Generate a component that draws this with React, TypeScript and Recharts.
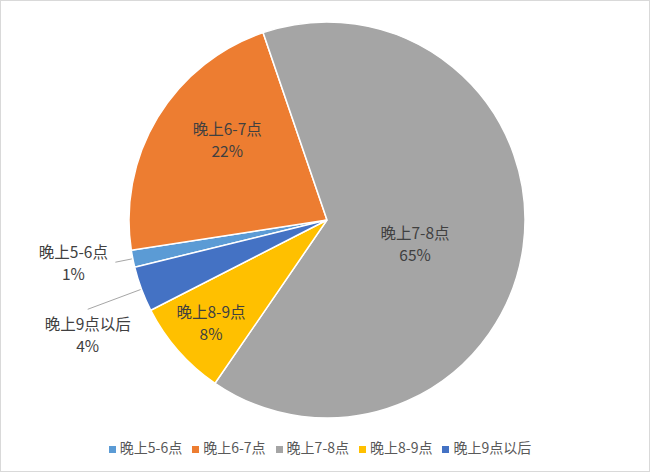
import React from 'react';
import { PieChart, Pie, Cell, Legend } from 'recharts';

const names = ['晚上5-6点', '晚上6-7点', '晚上7-8点', '晚上8-9点', '晚上9点以后'];
const shares = [1.4, 22.2, 64.8, 7.9, 3.7];
const colors = ['#5B9BD5', '#ED7D31', '#A5A5A5', '#FFC000', '#4472C4'];

const data = names.map((name, i) => ({ name, value: shares[i] }));

// where each data label sits: inside the slice, or outside with a leader line
const labelPlacement: Record<string, any> = {
  '晚上5-6点': { outside: true, r: 1.09, textShift: -42, dy: 0 },
  '晚上6-7点': { r: 0.65, shift: -8 },
  '晚上7-8点': { r: 0.46, shift: -7 },
  '晚上8-9点': { r: 0.78, shift: 0 },
  '晚上9点以后': { outside: true, r: 1.29, textShift: 0, dy: 25 },
};

const RADIAN = Math.PI / 180;
const font = '"Noto Sans CJK SC", "Microsoft YaHei", sans-serif';

const Lines = ({ x, y, name, pct }: { x: number; y: number; name: string; pct: string }) => (
  <>
    <text x={x} y={y - 11} textAnchor="middle" fill="#404040" fontSize={15.5} fontFamily={font} dominantBaseline="central">
      {name}
    </text>
    <text x={x} y={y + 11} textAnchor="middle" fill="#404040" fontSize={15.5} fontFamily={font} dominantBaseline="central">
      {pct}
    </text>
  </>
);

const renderLabel = (props: any) => {
  const { cx, cy, midAngle, outerRadius, percent, name } = props;
  const p = labelPlacement[name] || { r: 0.6, shift: 0 };
  const angle = (midAngle + (p.shift || 0)) * RADIAN;
  const x = cx + outerRadius * p.r * Math.cos(-angle);
  const y = cy + outerRadius * p.r * Math.sin(-angle);
  const pct = `${Math.round(percent * 100)}%`;

  if (p.outside) {
    const sx = cx + (outerRadius + 1) * Math.cos(-angle);
    const sy = cy + (outerRadius + 1) * Math.sin(-angle);
    return (
      <g>
        <line x1={sx} y1={sy} x2={x} y2={y} stroke="#a6a6a6" strokeWidth={1} />
        <Lines x={x + p.textShift} y={y + p.dy} name={name} pct={pct} />
      </g>
    );
  }

  return (
    <g>
      <Lines x={x} y={y} name={name} pct={pct} />
    </g>
  );
};

const App = () => {
  return (
    <div
      style={{
        position: 'absolute',
        left: 0,
        top: 0,
        width: 650,
        height: 472,
        background: '#fff',
        boxSizing: 'border-box',
        border: '1px solid #d9d9d9',
      }}
    >
      <PieChart width={648} height={470}>
        <Pie
          data={data}
          dataKey="value"
          nameKey="name"
          cx={321}
          cy={214}
          outerRadius={198}
          startAngle={-166.2}
          endAngle={-526.2}
          stroke="#fff"
          strokeWidth={1.5}
          label={renderLabel}
          labelLine={false}
          isAnimationActive={false}
        >
          {data.map((d, i) => (
            <Cell key={d.name} fill={colors[i]} />
          ))}
        </Pie>
        <Legend
          verticalAlign="bottom"
          align="center"
          iconType="square"
          iconSize={7}
          wrapperStyle={{ bottom: 14, fontFamily: font, fontSize: 14 }}
          formatter={(value: string) => <span style={{ color: '#595959' }}>{value}</span>}
        />
      </PieChart>
    </div>
  );
};

export default App;
